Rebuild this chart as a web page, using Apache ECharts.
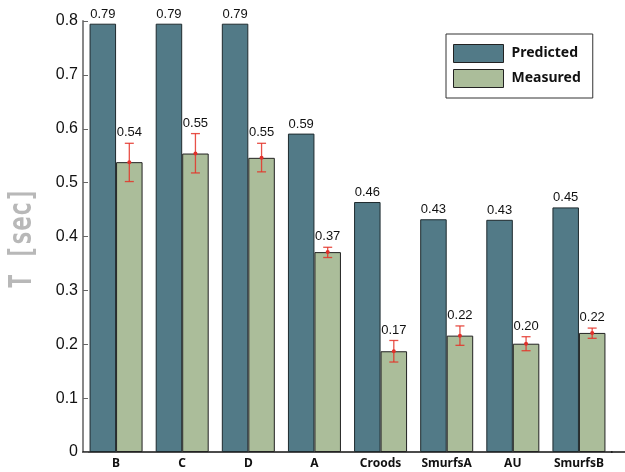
<!DOCTYPE html>
<html>
<head>
<meta charset="utf-8">
<script src="https://cdn.jsdelivr.net/npm/echarts@6/dist/echarts.min.js"></script>
<style>html,body{margin:0;padding:0;background:#fff}#c{width:625px;height:472px}</style>
</head>
<body>
<div id="c"></div>
<script>
const categories = ['B', 'C', 'D', 'A', 'Croods', 'SmurfsA', 'AU', 'SmurfsB'];
const predicted = [0.795, 0.795, 0.795, 0.591, 0.464, 0.432, 0.431, 0.454];
const predictedLabels = ['0.79', '0.79', '0.79', '0.59', '0.46', '0.43', '0.43', '0.45'];
const measured = [0.538, 0.554, 0.546, 0.371, 0.187, 0.216, 0.201, 0.221];
const measuredLabels = ['0.54', '0.55', '0.55', '0.37', '0.17', '0.22', '0.20', '0.22'];
const errLow = [0.502, 0.518, 0.520, 0.361, 0.167, 0.198, 0.188, 0.211];
const errHigh = [0.573, 0.591, 0.573, 0.380, 0.207, 0.234, 0.214, 0.230];
const yTicks = [0, 0.1, 0.2, 0.3, 0.4, 0.5, 0.6, 0.7, 0.8];
const yName = 'T [sec]';

const chart = echarts.init(document.getElementById('c'), null, {renderer: 'canvas'});
const BW = 26.5;
const errData = categories.map((c, i) => [i, measured[i], errLow[i], errHigh[i]]);

chart.setOption({
  animation: false,
  backgroundColor: '#fff',
  grid: {left: 83, right: 13, top: 21, bottom: 20, containLabel: false, outerBoundsMode: 'none'},
  legend: {
    orient: 'vertical', left: 446, top: 34,
    data: ['Predicted', 'Measured'],
    itemWidth: 50, itemHeight: 18, itemGap: 6,
    padding: [10, 12, 10, 7],
    backgroundColor: '#fff', borderColor: '#333', borderWidth: 1,
    icon: 'rect',
    itemStyle: {borderColor: '#222', borderWidth: 1},
    textStyle: {fontFamily: 'Noto Sans', fontWeight: 'bold', fontSize: 14, color: '#111', padding: [0, 0, 0, 3]}
  },
  xAxis: {
    type: 'category', data: categories,
    axisLine: {lineStyle: {color: '#111', width: 1.5}},
    axisTick: {show: false},
    axisLabel: {interval: 0, fontFamily: 'Noto Sans', fontWeight: 'bold', fontSize: 12, color: '#111', margin: 6}
  },
  yAxis: {
    type: 'value', min: 0, max: 0.8, interval: 0.1,
    splitLine: {show: false},
    axisLine: {show: true, lineStyle: {color: '#888', width: 2}},
    axisTick: {show: true, inside: true, length: 5, lineStyle: {color: '#666'}},
    axisLabel: {
      fontFamily: 'Liberation Sans', fontSize: 16, color: '#111', margin: 5,
      formatter: v => { const t = yTicks.find(x => Math.abs(x - v) < 1e-9); return t === 0 ? '0' : (t !== undefined ? t.toFixed(1) : ''); }
    }
  },
  series: [
    {
      name: 'Predicted', type: 'bar', data: predicted, barWidth: BW, barGap: '0%',
      itemStyle: {color: '#527a87', borderColor: '#1e2a2e', borderWidth: 1},
      label: {show: true, position: 'top', distance: 3, fontFamily: 'Liberation Sans', fontSize: 13, color: '#111',
        formatter: p => predictedLabels[p.dataIndex]}
    },
    {
      name: 'Measured', type: 'bar', data: measured, barWidth: BW, barGap: '0%',
      itemStyle: {color: '#abbd9a', borderColor: '#222', borderWidth: 1}
    },
    {
      name: 'err', type: 'custom', z: 10,
      data: errData,
      renderItem: function (params, api) {
        const idx = api.value(0);
        const c = api.coord([idx, api.value(1)]);
        const x = c[0] + BW / 2;
        const lo = api.coord([idx, api.value(2)])[1];
        const hi = api.coord([idx, api.value(3)])[1];
        const col = 'rgba(228,50,40,0.85)';
        const cap = 4.5;
        return {
          type: 'group',
          children: [
            {type: 'line', shape: {x1: x, y1: hi, x2: x, y2: lo}, style: {stroke: col, lineWidth: 1.3}},
            {type: 'line', shape: {x1: x - cap, y1: hi, x2: x + cap, y2: hi}, style: {stroke: col, lineWidth: 1.3}},
            {type: 'line', shape: {x1: x - cap, y1: lo, x2: x + cap, y2: lo}, style: {stroke: col, lineWidth: 1.3}},
            {type: 'circle', shape: {cx: x, cy: c[1], r: 2}, style: {fill: '#e0302a'}},
            {type: 'text', x: x, y: hi - 4, style: {text: measuredLabels[params.dataIndex], textAlign: 'center', textVerticalAlign: 'bottom',
              font: '13px "Liberation Sans"', fill: '#111'}}
          ]
        };
      }
    }
  ],
  graphic: [
    {type: 'line', shape: {x1: 611, y1: 452, x2: 625, y2: 452}, style: {stroke: '#111', lineWidth: 1.5}},
    {type: 'text', x: 23, y: 238, rotation: Math.PI / 2, scaleY: 1.3,
      style: {text: yName, font: 'bold 24px "DejaVu Sans Mono"', fill: '#b8b8b8', textAlign: 'center', textVerticalAlign: 'middle'}}
  ]
});
</script>
</body>
</html>
